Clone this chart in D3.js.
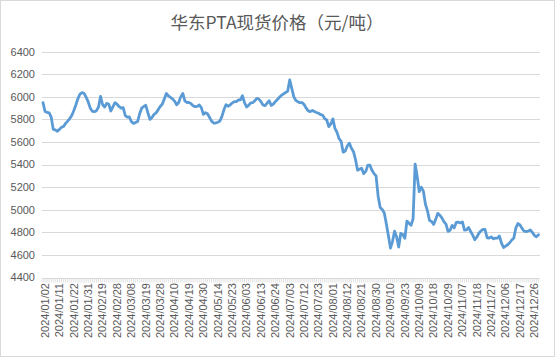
<!DOCTYPE html>
<html><head><meta charset="utf-8">
<script src="https://cdn.jsdelivr.net/npm/d3@7"></script>
<style>html,body{margin:0;padding:0;background:#fff;}svg{display:block;}</style>
</head><body>
<script>
const title = "华东PTA现货价格（元/吨）";
const holidays = ["2024-01-01","2024-02-09","2024-02-12","2024-02-13","2024-02-14","2024-02-15","2024-02-16",
  "2024-04-04","2024-04-05","2024-05-01","2024-05-02","2024-05-03","2024-06-10","2024-09-16","2024-09-17",
  "2024-10-01","2024-10-02","2024-10-03","2024-10-04","2024-10-07"];
const tickLabels = ["2024/01/02","2024/01/11","2024/01/22","2024/01/31","2024/02/19","2024/02/28","2024/03/08",
  "2024/03/19","2024/03/28","2024/04/10","2024/04/19","2024/04/30","2024/05/14","2024/05/23","2024/06/03",
  "2024/06/13","2024/06/24","2024/07/03","2024/07/12","2024/07/23","2024/08/01","2024/08/12","2024/08/21",
  "2024/08/30","2024/09/10","2024/09/23","2024/10/09","2024/10/18","2024/10/29","2024/11/07","2024/11/18",
  "2024/11/27","2024/12/06","2024/12/17","2024/12/26"];
const yTicks = [4400,4600,4800,5000,5200,5400,5600,5800,6000,6200,6400];
const prices = [
5949,5870,5862,5858,5820,5712,5708,5695,5712,5730,
5738,5765,5785,5808,5835,5880,5930,5985,6025,6038,
6030,5995,5955,5900,5872,5869,5878,5910,6005,5930,
5910,5942,5935,5875,5912,5948,5935,5915,5900,5905,
5835,5820,5822,5780,5765,5772,5781,5850,5900,5915,
5925,5860,5800,5818,5845,5858,5885,5915,5935,5980,
6030,6008,5995,5982,5962,5930,5950,6000,6030,5965,
5950,5950,5940,5922,5913,5915,5928,5905,5845,5860,
5850,5818,5785,5768,5768,5775,5785,5825,5885,5930,
5917,5928,5945,5958,5958,5972,5973,6010,5950,5910,
5925,5946,5948,5965,5987,5981,5958,5928,5922,5945,
5966,5925,5935,5958,5977,5996,6014,6027,6039,6050,
6150,6075,6000,5968,5955,5949,5949,5932,5900,5876,
5869,5880,5870,5862,5855,5842,5838,5808,5795,5736,
5760,5805,5720,5685,5630,5606,5510,5520,5565,5590,
5545,5515,5445,5350,5360,5368,5320,5340,5395,5395,
5350,5320,5300,5120,5020,5002,4972,4875,4770,4660,
4720,4810,4760,4670,4790,4780,4748,4900,4880,4862,
4920,5405,5294,5160,5200,5165,5050,4990,4905,4896,
4870,4915,4968,4952,4928,4895,4872,4808,4818,4862,
4840,4888,4890,4883,4892,4820,4822,4843,4807,4775,
4735,4758,4792,4813,4826,4825,4752,4750,4760,4743,
4748,4748,4767,4705,4666,4678,4690,4708,4732,4750,
4840,4878,4865,4835,4810,4807,4812,4822,4800,4773,
4760,4778];

// trading-day categories for 2024
const fmt = d3.timeFormat("%Y/%m/%d"), iso = d3.timeFormat("%Y-%m-%d");
const dates = [];
for (let d = new Date(2024,0,1); d.getFullYear() === 2024; d.setDate(d.getDate()+1)) {
  const wd = d.getDay();
  if (wd === 0 || wd === 6 || holidays.includes(iso(d))) continue;
  dates.push(fmt(d));
}
const data = dates.map((d,i) => ({date:d, value:prices[i]})).filter(d => d.value != null);

const W = 555, H = 357;
const svg = d3.select("body").append("svg").attr("width", W).attr("height", H);
svg.append("rect").attr("x",0.5).attr("y",0.5).attr("width",W-1).attr("height",H-1)
  .attr("fill","#fff").attr("stroke","#d9d9d9");

const x = d3.scalePoint().domain(dates).range([43, 538.5]);
const y = d3.scaleLinear().domain([4400, 6400]).range([277.5, 51.7]);

svg.append("text").attr("x", 277).attr("y", 29).attr("text-anchor","middle")
  .attr("font-family","'Noto Sans CJK SC', sans-serif").attr("font-size","17.5px").attr("fill","#595959")
  .text(title);

// gridlines
svg.append("g").selectAll("line").data(yTicks.slice(1)).join("line")
  .attr("x1", 42).attr("x2", 540).attr("y1", d => Math.round(y(d))+0.5).attr("y2", d => Math.round(y(d))+0.5)
  .attr("stroke","#d9d9d9").attr("stroke-width",1);

// y labels
svg.append("g").selectAll("text").data(yTicks).join("text")
  .attr("x", 35).attr("y", d => y(d)).attr("dy","0.35em").attr("text-anchor","end")
  .attr("font-family","'Liberation Sans', Arial, sans-serif").attr("font-size","11px").attr("fill","#595959")
  .text(d => d);

// x axis line + ticks
const ay = Math.round(y(4400)) + 0.5;
svg.append("line").attr("x1",42).attr("x2",540).attr("y1",ay).attr("y2",ay).attr("stroke","#d9d9d9");
svg.append("g").selectAll("line").data(dates).join("line")
  .attr("x1", d => x(d)).attr("x2", d => x(d)).attr("y1", ay).attr("y2", ay+4)
  .attr("stroke","#d9d9d9").attr("stroke-width",0.8);

// x labels
svg.append("g").selectAll("text").data(dates.filter(d => tickLabels.includes(d))).join("text")
  .attr("transform", d => `translate(${x(d)+2},283) rotate(-90)`)
  .attr("dy","0.35em").attr("text-anchor","end")
  .attr("font-family","'Liberation Sans', Arial, sans-serif").attr("font-size","11px").attr("fill","#595959")
  .text(d => d);

// line
svg.append("path").datum(data)
  .attr("fill","none").attr("stroke","#5b9bd5").attr("stroke-width",2.8)
  .attr("stroke-linejoin","round").attr("stroke-linecap","round")
  .attr("d", d3.line().x(d => x(d.date)).y(d => y(d.value)));
</script>
</body></html>
